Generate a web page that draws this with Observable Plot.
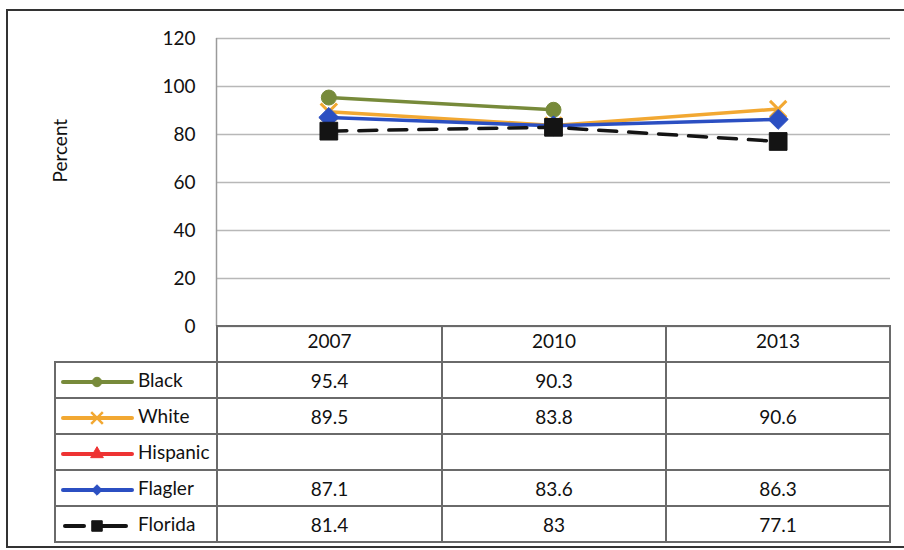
<!DOCTYPE html>
<html><head><meta charset="utf-8">
<script src="https://cdn.jsdelivr.net/npm/d3@7"></script>
<script src="https://cdn.jsdelivr.net/npm/@observablehq/plot@0.6"></script>
<style>
body{margin:0;background:#fff;font-family:Lato,sans-serif}
#wrap{position:relative;width:904px;height:550px;overflow:hidden;background:#fff}
#border{position:absolute;left:6px;top:9px;width:920px;height:535px;border:2px solid #333;}
#chart{position:absolute;left:0;top:0}
#tbl{position:absolute;left:54px;top:325px;border-collapse:collapse;table-layout:fixed;font-size:19px;color:#111;font-family:Lato,sans-serif}
#tbl td{border:2px solid #6a6a6a;height:34px;padding:0;text-align:center;white-space:nowrap}
#tbl tr.head td{padding-bottom:8px;height:26px}
#tbl td.leg{text-align:left;padding-left:4px}
#tbl td.leg svg{vertical-align:middle;margin-right:4px}
#tbl td.blank{border-top:none;border-left:none}
</style></head>
<body>
<div id="wrap"><div id="border"></div><div id="chart"></div><table id="tbl"></table></div>
<script>
// ---- data ----
const years = ["2007", "2010", "2013"];
const seriesNames = ["Black", "White", "Hispanic", "Flagler", "Florida"];
const black = [95.4, 90.3, null];
const white = [89.5, 83.8, 90.6];
const hispanic = [null, null, null];
const flagler = [87.1, 83.6, 86.3];
const florida = [81.4, 83, 77.1];
const yTicks = [0, 20, 40, 60, 80, 100, 120];

// ---- styles ----
const allValues = [black, white, hispanic, flagler, florida];
const colors = ["#778a3a", "#f2a832", "#ee3333", "#2b4fc2", "#141414"];
const symbols = ["circle", "times", "triangle", "diamond2", "square"];
const radii = [7.5, 7.5, 7, 9, 10];
const dashes = [null, null, null, null, "18,12"];

const marks = [
  Plot.ruleY(yTicks, {stroke: "#b8b8b8", strokeWidth: 1.5}),
  Plot.ruleX([0], {stroke: "#9a9a9a", strokeWidth: 1.5}),
  Plot.axisY({ticks: yTicks, tickSize: 0, tickPadding: 21, label: null, fontSize: 19}),
  Plot.text(["Percent"], {frameAnchor: "left", dx: -156, rotate: -90, fontSize: 19, fill: "#111"})
];
allValues.forEach((vals, s) => {
  const data = years.map((yr, i) => ({xi: i + 0.5, v: vals[i]})).filter(d => d.v != null);
  marks.push(Plot.line(data, {x: "xi", y: "v", stroke: colors[s], strokeWidth: 3.5,
    strokeDasharray: dashes[s] || undefined, strokeLinecap: dashes[s] ? "round" : "butt"}));
  const isStroke = symbols[s] === "times";
  marks.push(Plot.dot(data, {x: "xi", y: "v", symbol: symbols[s], r: radii[s],
    fill: isStroke ? "none" : colors[s], stroke: colors[s], strokeWidth: isStroke ? 3 : 1}));
});

const chart = Plot.plot({
  width: 904, height: 346,
  marginLeft: 216, marginRight: 14, marginTop: 38, marginBottom: 20,
  x: {domain: [0, 3], axis: null},
  y: {domain: [0, 120], axis: null},
  style: {fontFamily: "Lato, sans-serif", fontSize: "19px", color: "#111", background: "transparent"},
  marks
});
document.getElementById("chart").appendChild(chart);

// ---- data table (legend + values) ----
const tbl = document.getElementById("tbl");
const cg = document.createElement("colgroup");
[162, 225, 224, 224].forEach(w => { const c = document.createElement("col"); c.style.width = w + "px"; cg.appendChild(c); });
tbl.appendChild(cg);
const head = document.createElement("tr"); head.className = "head";
const b = document.createElement("td"); b.className = "blank"; head.appendChild(b);
years.forEach(y => { const td = document.createElement("td"); td.textContent = y; head.appendChild(td); });
tbl.appendChild(head);

function swatch(s) {
  const ns = "http://www.w3.org/2000/svg";
  const svg = document.createElementNS(ns, "svg");
  svg.setAttribute("width", 74); svg.setAttribute("height", 20);
  const segs = dashes[s] ? [[5, 24], [40, 66]] : [[3, 72]];
  segs.forEach(([a, c]) => {
    const line = document.createElementNS(ns, "line");
    line.setAttribute("x1", a); line.setAttribute("x2", c); line.setAttribute("y1", 10); line.setAttribute("y2", 10);
    line.setAttribute("stroke", colors[s]); line.setAttribute("stroke-width", 4);
    line.setAttribute("stroke-linecap", "round");
    svg.appendChild(line);
  });
  const sym = {circle: d3.symbolCircle, times: d3.symbolTimes, triangle: d3.symbolTriangle, diamond2: d3.symbolDiamond2, square: d3.symbolSquare}[symbols[s]];
  const p = document.createElementNS(ns, "path");
  p.setAttribute("d", d3.symbol(sym, symbols[s] === "times" ? 90 : (symbols[s] === "square" ? 110 : 70))());
  p.setAttribute("transform", "translate(37,10)");
  const isStroke = symbols[s] === "times";
  p.setAttribute("fill", isStroke ? "none" : colors[s]);
  p.setAttribute("stroke", colors[s]); p.setAttribute("stroke-width", isStroke ? 2.5 : 1);
  svg.appendChild(p);
  return svg;
}
seriesNames.forEach((name, s) => {
  const tr = document.createElement("tr");
  const lg = document.createElement("td"); lg.className = "leg";
  lg.appendChild(swatch(s)); lg.appendChild(document.createTextNode(name));
  tr.appendChild(lg);
  allValues[s].forEach(v => { const td = document.createElement("td"); td.textContent = v == null ? "" : String(v); tr.appendChild(td); });
  tbl.appendChild(tr);
});
</script>
</body></html>
